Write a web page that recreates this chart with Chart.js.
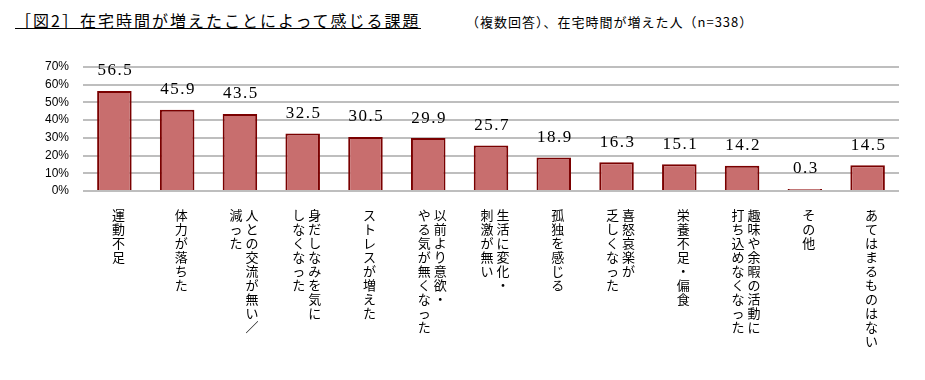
<!DOCTYPE html>
<html>
<head>
<meta charset="utf-8">
<script src="https://cdn.jsdelivr.net/npm/chart.js@4/dist/chart.umd.min.js"></script>
<style>
  body { margin: 0; background: #fff; }
  #wrap { position: relative; width: 925px; height: 380px; }
  #title {
    position: absolute; left: 15px; top: 12px;
    font: 16px "Noto Sans CJK JP", sans-serif; line-height: 16px;
    letter-spacing: 2px; color: #000;
    border-bottom: 1px solid #000;
  }
  #sub {
    position: absolute; left: 466px; top: 14px;
    font: 13px "Noto Sans CJK JP", sans-serif; line-height: 15px;
    letter-spacing: 1px; color: #000;
  }
  canvas { position: absolute; left: 0; top: 0; }
</style>
</head>
<body>
<div id="wrap">
  <div id="title">［図2］在宅時間が増えたことによって感じる課題</div>
  <div id="sub">（複数回答）、在宅時間が増えた人（n=338）</div>
  <canvas id="myChart" width="925" height="380"></canvas>
</div>
<script>
// 項目 (縦書き用に列ごとに分けてある: 右の列が先)
var categories = [
    ['運動不足'],
    ['体力が落ちた'],
    ['人との交流が無い／', '減った'],
    ['身だしなみを気に', 'しなくなった'],
    ['ストレスが増えた'],
    ['以前より意欲・', 'やる気が無くなった'],
    ['生活に変化・', '刺激が無い'],
    ['孤独を感じる'],
    ['喜怒哀楽が', '乏しくなった'],
    ['栄養不足・偏食'],
    ['趣味や余暇の活動に', '打ち込めなくなった'],
    ['その他'],
    ['あてはまるものはない']
];
var values = [56.5, 45.9, 43.5, 32.5, 30.5, 29.9, 25.7, 18.9, 16.3, 15.1, 14.2, 0.3, 14.5];
var yMin = 0, yMax = 70, yStep = 10;

// 縦書きラベルを行の配列にする
function verticalLines(cols) {
    var right = Array.from(cols[0]);
    if (cols.length === 1) return right;
    var left = Array.from(cols[1]);
    var n = Math.max(right.length, left.length);
    var lines = [];
    for (var i = 0; i < n; i++) {
        lines.push((left[i] || '　') + ' ' + (right[i] || '　'));
    }
    return lines;
}
var labels = categories.map(verticalLines);

// 棒の上に値を書く
var valueLabels = {
    id: 'valueLabels',
    afterDatasetsDraw: function(chart) {
        var ctx = chart.ctx;
        var meta = chart.getDatasetMeta(0);
        ctx.save();
        ctx.font = '17px "Liberation Serif", serif';
        ctx.letterSpacing = '1.5px';
        ctx.fillStyle = '#000';
        ctx.textAlign = 'center';
        ctx.textBaseline = 'middle';
        meta.data.forEach(function(bar, i) {
            ctx.fillText(values[i].toFixed(1), bar.x + 1, bar.y - 20);
        });
        ctx.restore();
    }
};

var ctx = document.getElementById('myChart').getContext('2d');
var myChart = new Chart(ctx, {
    type: 'bar',
    data: {
        labels: labels,
        datasets: [{
            data: values,
            backgroundColor: '#C86E6E',
            borderColor: '#7A0000',
            borderWidth: 2,
            minBarLength: 2,
            categoryPercentage: 1,
            barPercentage: 0.55
        }]
    },
    options: {
        responsive: false,
        animation: false,
        layout: { padding: { top: 67, right: 26, bottom: 0, left: 0 } },
        plugins: {
            legend: { display: false },
            tooltip: { enabled: false }
        },
        scales: {
            x: {
                grid: { display: false },
                border: { display: false },
                ticks: {
                    maxRotation: 0,
                    autoSkip: false,
                    padding: 9,
                    labelOffset: 4,
                    color: '#000',
                    font: { family: '"Noto Sans CJK JP", sans-serif', size: 13, lineHeight: '14px' }
                },
                afterFit: function(axis) { axis.height = 189; }
            },
            y: {
                min: yMin,
                max: yMax,
                ticks: {
                    stepSize: yStep,
                    padding: 14,
                    color: '#000',
                    font: { family: '"Liberation Sans", sans-serif', size: 12 },
                    callback: function(v) { return v + '%'; }
                },
                grid: { color: '#BEBEBE', lineWidth: 2, drawTicks: false },
                border: { display: false },
                afterFit: function(axis) { axis.width = 83; }
            }
        }
    },
    plugins: [valueLabels]
});
</script>
</body>
</html>
